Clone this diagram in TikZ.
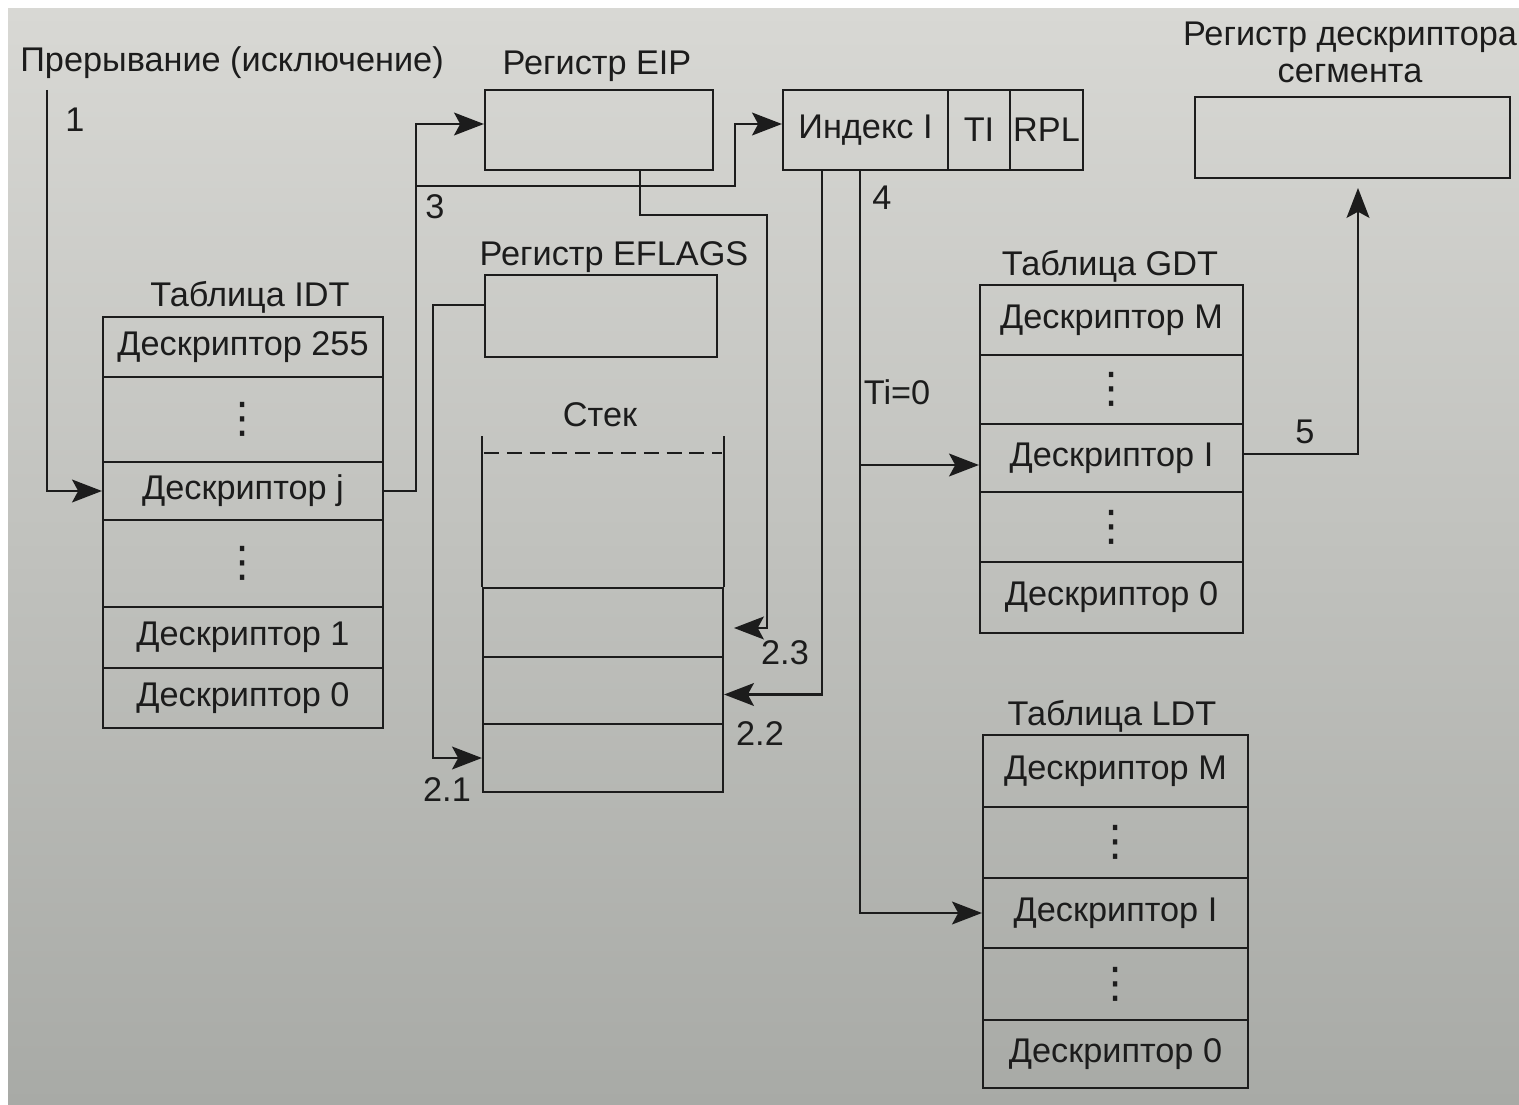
\documentclass[tikz,border=0pt]{standalone}
\usepackage{fontspec}
\setmainfont{Liberation Sans}
\newfontfamily\dejavu{DejaVu Sans}
\usetikzlibrary{arrows.meta,calc}
\definecolor{ink}{RGB}{28,28,28}
\definecolor{bgtop}{RGB}{216,216,212}
\definecolor{bgbot}{RGB}{168,170,166}
\begin{document}
\begin{tikzpicture}[x=0.02cm,y=-0.02cm, line width=1.25pt, color=ink,
  font=\fontsize{19.5}{22}\selectfont,
  box/.style={draw, inner sep=0pt},
  lbl/.style={inner sep=0pt},
  dots/.style={box, font=\dejavu\fontsize{24}{26}\selectfont},
  arr/.style={-{Stealth[length=17pt,width=13pt,inset=3.5pt]}}]
\useasboundingbox (0,0) rectangle (1519,1105);
\shade[top color=bgtop, bottom color=bgbot, draw=none] (8,9) rectangle (1519,1105);

% ---- titles and labels
\node[lbl] (tint) at (232,63) {Прерывание (исключение)};
\node[lbl] (teip) at (597,66) {Регистр EIP};
\node[lbl, align=center, font=\fontsize{19.5}{21}\selectfont] (tsdr) at (1350,52) {Регистр дескриптора\\сегмента};
\node[lbl] (tefl) at (614,257) {Регистр EFLAGS};
\node[lbl] (tidt) at (250,297) {Таблица IDT};
\node[lbl] (tgdt) at (1110,266) {Таблица GDT};
\node[lbl] (tldt) at (1112,716) {Таблица LDT};
\node[lbl] (tstk) at (600,415) {Стек};
\node[lbl] (n1) at (75,120) {1};
\node[lbl] (n3) at (435,207) {3};
\node[lbl] (n4) at (882,198) {4};
\node[lbl] (n5) at (1305,432) {5};
\node[lbl] (nti) at (897,392) {Ti=0};
\node[lbl] (n21) at (447,790) {2.1};
\node[lbl] (n22) at (760,734) {2.2};
\node[lbl] (n23) at (785,653) {2.3};

% ---- registers
\node[box, minimum width=4.56cm, minimum height=1.6cm] (eip) at (599,130) {};
\node[box, minimum width=3.3cm, minimum height=1.6cm] (idx) at (865.5,130) {Индекс I};
\node[box, minimum width=1.24cm, minimum height=1.6cm] (ti) at (979,130) {TI};
\node[box, minimum width=1.46cm, minimum height=1.6cm] (rpl) at (1046.5,130) {RPL};
\node[box, minimum width=6.3cm, minimum height=1.62cm] (sdr) at (1352.5,137.5) {};
\node[box, minimum width=4.64cm, minimum height=1.64cm] (efl) at (601,316) {};

% ---- IDT
\node[box, minimum width=5.6cm, minimum height=1.2cm] (idt255) at (243,347) {Дескриптор 255};
\node[dots, minimum width=5.6cm, minimum height=1.7cm] (idtd1) at (243,419.5) {⋮};
\node[box, minimum width=5.6cm, minimum height=1.16cm] (idtj) at (243,491) {Дескриптор j};
\node[dots, minimum width=5.6cm, minimum height=1.74cm] (idtd2) at (243,563.5) {⋮};
\node[box, minimum width=5.6cm, minimum height=1.22cm] (idt1) at (243,637.5) {Дескриптор 1};
\node[box, minimum width=5.6cm, minimum height=1.2cm] (idt0) at (243,698) {Дескриптор 0};

% ---- GDT
\node[box, minimum width=5.26cm, minimum height=1.4cm] (gdtm) at (1111.5,320) {Дескриптор M};
\node[dots, minimum width=5.26cm, minimum height=1.38cm] (gdtd1) at (1111.5,389.5) {⋮};
\node[box, minimum width=5.26cm, minimum height=1.36cm] (gdti) at (1111.5,458) {Дескриптор I};
\node[dots, minimum width=5.26cm, minimum height=1.4cm] (gdtd2) at (1111.5,527) {⋮};
\node[box, minimum width=5.26cm, minimum height=1.42cm] (gdt0) at (1111.5,597.5) {Дескриптор 0};

% ---- LDT
\node[box, minimum width=5.3cm, minimum height=1.44cm] (ldtm) at (1115.5,771) {Дескриптор M};
\node[dots, minimum width=5.3cm, minimum height=1.42cm] (ldtd1) at (1115.5,842.5) {⋮};
\node[box, minimum width=5.3cm, minimum height=1.4cm] (ldti) at (1115.5,913) {Дескриптор I};
\node[dots, minimum width=5.3cm, minimum height=1.44cm] (ldtd2) at (1115.5,984) {⋮};
\node[box, minimum width=5.3cm, minimum height=1.36cm] (ldt0) at (1115.5,1054) {Дескриптор 0};

% ---- stack
\node[box, minimum width=4.8cm, minimum height=1.38cm] (s3) at (603,622.5) {};
\node[box, minimum width=4.8cm, minimum height=1.34cm] (s2) at (603,690.5) {};
\node[box, minimum width=4.8cm, minimum height=1.36cm] (s1) at (603,758) {};
\draw (s3.north west) -- ++(0,-151);
\draw (s3.north east) -- ++(0,-151);
\draw[dashed, dash pattern=on 8.5pt off 4.5pt] ($(s3.north west)+(2,-134)$) -- ($(s3.north east)+(-2,-134)$);

% ---- connectors
\coordinate (in1) at (47,90);
\draw[arr] (in1) |- (idtj.west);

\draw[arr] (idtj.east) -- ++(32,0) |- ([yshift=0.12cm]eip.west);
\coordinate (b3) at (415,186);
\draw[arr] (b3) -- (735,186) |- ([yshift=0.12cm]idx.west);

\coordinate (a23) at (734,628);
\draw[arr] ([xshift=0.82cm]eip.south) |- (767,215) |- (a23);

\draw[arr] ([xshift=-0.87cm]idx.south) |- ([yshift=-0.08cm]s2.east);

\draw[arr] ([yshift=0.22cm]efl.west) -| (433,500) |- (s1.west);

\draw[arr] ([xshift=-0.11cm]idx.south) |- (ldti.west);
\coordinate (b4) at (860,465);
\draw[arr] (b4) -- (gdti.west |- b4);

\coordinate (a5) at (1358,188);
\draw[arr] ([yshift=0.08cm]gdti.east) -| (a5);
\end{tikzpicture}
\end{document}
